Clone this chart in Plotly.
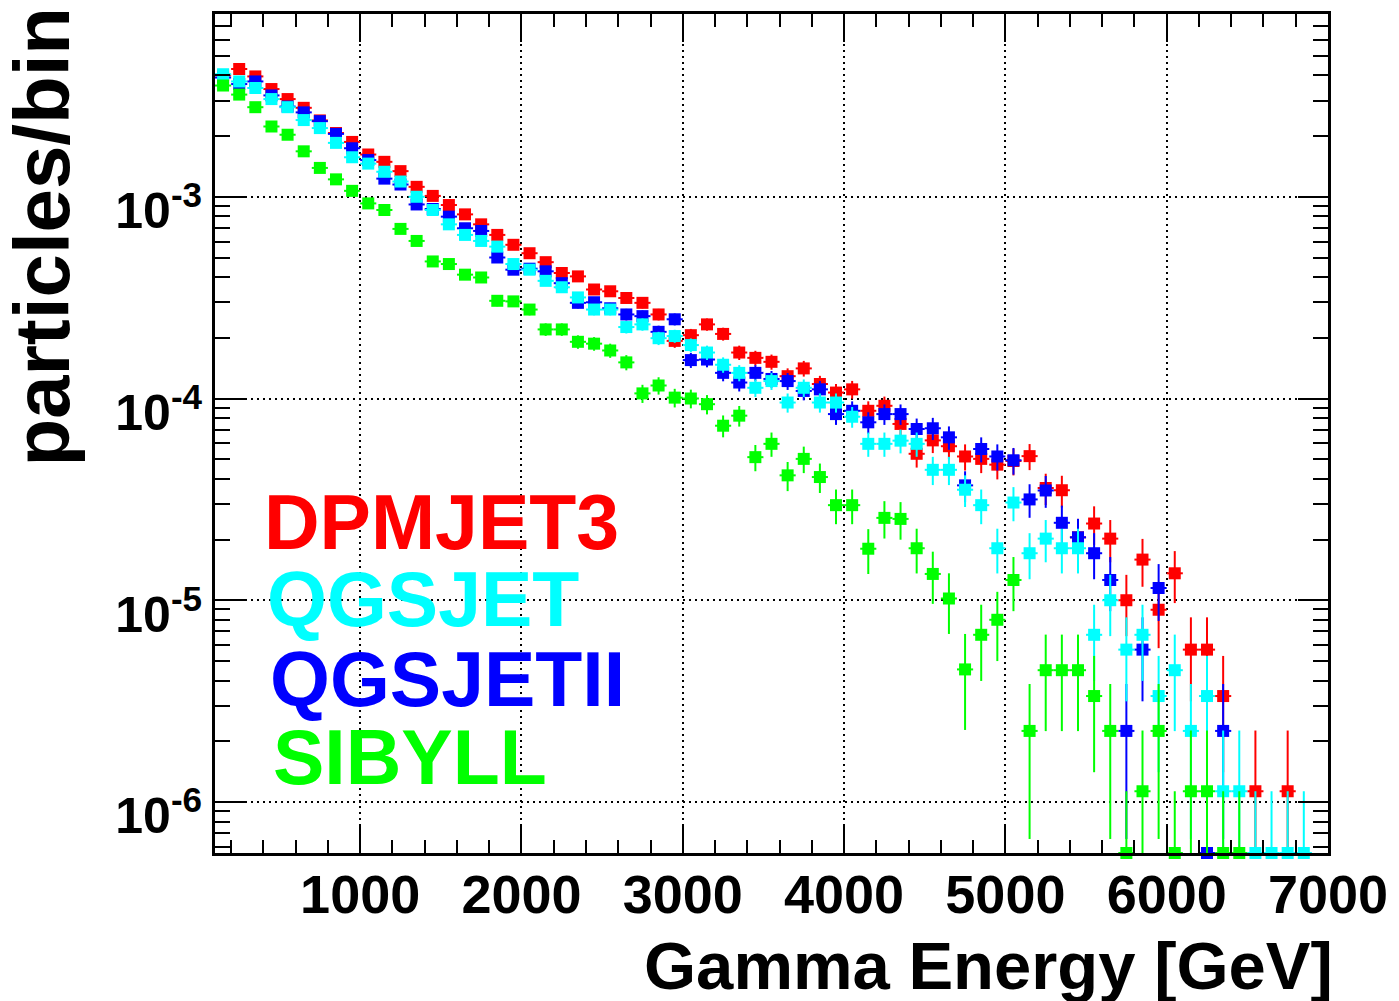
import math
import plotly.graph_objects as go

# ---------------- data ----------------
# bin centres [GeV] of 100 GeV wide bins between 100 and 7000
energy = [150, 250, 350, 450, 550, 650, 750, 850, 950, 1050,
          1150, 1250, 1350, 1450, 1550, 1650, 1750, 1850, 1950, 2050,
          2150, 2250, 2350, 2450, 2550, 2650, 2750, 2850, 2950, 3050,
          3150, 3250, 3350, 3450, 3550, 3650, 3750, 3850, 3950, 4050,
          4150, 4250, 4350, 4450, 4550, 4650, 4750, 4850, 4950, 5050,
          5150, 5250, 5350, 5450, 5550, 5650, 5750, 5850, 5950, 6050,
          6150, 6250, 6350, 6450, 6550, 6650, 6750, 6850]

# None = bin not drawn, 0 = empty bin drawn on the frame floor (as in the reference)
dpmjet3 = [4.0e-3, 4.30e-3, 3.95e-3, 3.42e-3, 3.05e-3, 2.76e-3, 2.39e-3, 2.07e-3, 1.87e-3, 1.62e-3,
           1.49e-3, 1.34e-3, 1.12e-3, 1.01e-3, 9.1e-4, 8.18e-4, 7.3e-4, 6.47e-4, 5.78e-4, 5.25e-4,
           4.74e-4, 4.19e-4, 4.03e-4, 3.47e-4, 3.40e-4, 3.15e-4, 2.98e-4, 2.61e-4, 1.93e-4, 2.06e-4,
           2.33e-4, 2.09e-4, 1.69e-4, 1.59e-4, 1.52e-4, 1.29e-4, 1.41e-4, 1.18e-4, 1.07e-4, 1.11e-4,
           8.69e-5, 9.2e-5, 7.48e-5, 5.32e-5, 6.2e-5, 5.8e-5, 5.16e-5, 5.02e-5, 4.7e-5, 4.9e-5,
           5.18e-5, 3.6e-5, 3.51e-5, 2.05e-5, 2.40e-5, 2.02e-5, 1.0e-5, 1.59e-5, 8.97e-6, 1.36e-5,
           5.69e-6, 5.69e-6, 3.35e-6, None, 1.13e-6, None, 1.13e-6, None]

qgsjetii = [3.9e-3, 3.62e-3, 3.73e-3, 3.18e-3, 2.8e-3, 2.62e-3, 2.37e-3, 2.05e-3, 1.74e-3, 1.52e-3,
            1.23e-3, 1.15e-3, 9.16e-4, 8.7e-4, 7.97e-4, 6.98e-4, 6.77e-4, 5.0e-4, 4.35e-4, 4.4e-4,
            4.27e-4, 3.73e-4, 2.98e-4, 3.0e-4, 2.8e-4, 2.61e-4, 2.56e-4, 2.14e-4, 2.47e-4, 1.55e-4,
            1.56e-4, 1.34e-4, 1.20e-4, 1.34e-4, 1.25e-4, 1.22e-4, 1.09e-4, 1.11e-4, 8.37e-5, 8.69e-5,
            7.62e-5, 8.37e-5, 8.37e-5, 7.06e-5, 7.12e-5, 6.42e-5, 3.71e-5, 5.62e-5, 5.16e-5, 4.94e-5,
            3.16e-5, 3.5e-5, 2.42e-5, 2.05e-5, 1.71e-5, 1.26e-5, 2.25e-6, 5.69e-6, 1.15e-5, None,
            None, 0, 2.25e-6, None, None, None, None, None]

qgsjet = [4.05e-3, 3.73e-3, 3.46e-3, 3.05e-3, 2.78e-3, 2.40e-3, 2.19e-3, 1.85e-3, 1.57e-3, 1.46e-3,
          1.33e-3, 1.19e-3, 1.0e-3, 8.6e-4, 7.3e-4, 6.47e-4, 6.04e-4, 5.66e-4, 4.64e-4, 4.35e-4,
          3.83e-4, 3.56e-4, 3.17e-4, 2.76e-4, 2.76e-4, 2.26e-4, 2.33e-4, 1.99e-4, 2.04e-4, 1.84e-4,
          1.69e-4, 1.47e-4, 1.34e-4, 1.13e-4, 1.22e-4, 9.55e-5, 1.13e-4, 9.55e-5, 9.55e-5, 8.12e-5,
          5.96e-5, 5.96e-5, 6.18e-5, 5.96e-5, 4.43e-5, 4.43e-5, 3.53e-5, 2.96e-5, 1.81e-5, 3.05e-5,
          1.71e-5, 2.02e-5, 1.81e-5, 1.81e-5, 6.74e-6, 1.0e-5, 5.69e-6, 6.74e-6, 3.35e-6, 4.50e-6,
          2.25e-6, 3.35e-6, 1.13e-6, 1.13e-6, 0, 0, 0, 0]

sibyll = [3.56e-3, 3.21e-3, 2.78e-3, 2.23e-3, 2.03e-3, 1.68e-3, 1.39e-3, 1.22e-3, 1.07e-3, 9.27e-4,
          8.6e-4, 6.93e-4, 6.04e-4, 4.78e-4, 4.64e-4, 4.11e-4, 3.98e-4, 3.05e-4, 3.03e-4, 2.76e-4,
          2.20e-4, 2.20e-4, 1.91e-4, 1.87e-4, 1.73e-4, 1.51e-4, 1.06e-4, 1.16e-4, 1.01e-4, 1.0e-4,
          9.37e-5, 7.33e-5, 8.22e-5, 5.12e-5, 5.96e-5, 4.16e-5, 5.02e-5, 4.08e-5, 2.96e-5, 2.96e-5,
          1.80e-5, 2.56e-5, 2.53e-5, 1.81e-5, 1.35e-5, 1.02e-5, 4.54e-6, 6.74e-6, 8.0e-6, 1.26e-5,
          2.25e-6, 4.50e-6, 4.50e-6, 4.50e-6, 3.35e-6, 2.25e-6, 0, 1.13e-6, 2.25e-6, 0,
          1.13e-6, 1.13e-6, 0, 0, None, None, None, None]

series_names = ["DPMJET3", "QGSJET", "QGSJETII", "SIBYLL"]
series_colors = {"DPMJET3": "#ff0000", "QGSJET": "#00ffff",
                 "QGSJETII": "#0000ff", "SIBYLL": "#00ff00"}
series_values = {"DPMJET3": dpmjet3, "QGSJET": qgsjet,
                 "QGSJETII": qgsjetii, "SIBYLL": sibyll}
draw_order = ["DPMJET3", "QGSJETII", "QGSJET", "SIBYLL"]

single_entry = 1.13e-6          # content of a one-entry bin (Poisson error scale)
bin_half_width = 50
x_range = [100, 7000]
y_log_range = [-6.253, -2.094]
x_ticks = [1000, 2000, 3000, 4000, 5000, 6000, 7000]
y_decades = [-6, -5, -4, -3]

# ---------------- figure ----------------
FONT = "Liberation Sans"
floor = 10 ** y_log_range[0]


def prepare(vals):
    ys, ep, em = [], [], []
    for v in vals:
        if v is None:
            ys.append(None); ep.append(None); em.append(None)
        elif v == 0:
            ys.append(floor); ep.append(single_entry - floor); em.append(floor * 0.02)
        else:
            e = math.sqrt(v * single_entry)
            low = max(v - e, floor * 0.98)
            ys.append(v); ep.append(e); em.append(v - low)
    return ys, ep, em


fig = go.Figure()
for name in draw_order:
    col = series_colors[name]
    ys, ep, em = prepare(series_values[name])
    fig.add_trace(go.Scatter(
        x=energy, y=ys, mode="markers", name=name, cliponaxis=False,
        marker=dict(symbol="square", size=12, color=col, line=dict(width=0)),
        error_y=dict(type="data", array=ep, arrayminus=em, symmetric=False,
                     thickness=2, width=0, color=col),
        error_x=dict(type="constant", value=bin_half_width, thickness=2, width=0, color=col),
        showlegend=False,
    ))

minor_y = [k * 10 ** d for d in range(-7, -1) for k in range(2, 10)]

axis_common = dict(
    showline=True, linewidth=3, linecolor="black", mirror="ticks",
    ticks="inside", tickwidth=2, tickcolor="black",
    showgrid=True, gridcolor="black", gridwidth=2, griddash="2px,4px",
    zeroline=False,
)

fig.update_xaxes(
    range=x_range, tickmode="array", tickvals=x_ticks,
    ticktext=[str(v) for v in x_ticks], ticklen=28, ticklabelstandoff=-8,
    tickfont=dict(family=FONT, size=54, color="black", weight="bold"),
    minor=dict(tick0=0, dtick=200, ticks="inside", ticklen=13, tickwidth=2,
               tickcolor="black", showgrid=False),
    **axis_common,
)
fig.update_yaxes(
    type="log", range=y_log_range, tickmode="array",
    tickvals=[10 ** d for d in y_decades],
    ticktext=[f"10<sup>{d}</sup>" for d in y_decades], ticklen=30,
    ticklabelshift=14,
    tickfont=dict(family=FONT, size=50, color="black", weight="bold"),
    minor=dict(tickmode="array", tickvals=minor_y, ticks="inside", ticklen=15,
               tickwidth=2, tickcolor="black", showgrid=False),
    **axis_common,
)

L, R, T, B = 215, 69, 11, 148
W_, H_ = 1399, 1001
pw, ph = W_ - L - R, H_ - T - B


def px(xp):
    return (xp - L) / pw


def py(yp):
    return (H_ - B - yp) / ph


annotations = [
    dict(text="particles/bin", x=px(42), y=py(235), textangle=-90,
         xanchor="center", yanchor="middle",
         font=dict(family=FONT, size=78, color="black", weight="bold")),
    dict(text="Gamma Energy [GeV]", x=px(1337), y=py(966),
         xanchor="right", yanchor="middle",
         font=dict(family=FONT, size=67, color="black", weight="bold")),
]
legend_pos = {"DPMJET3": (262, 521), "QGSJET": (265, 598),
              "QGSJETII": (268, 678), "SIBYLL": (271, 757)}
for name in series_names:
    lx, ly = legend_pos[name]
    annotations.append(dict(text=name, x=px(lx), y=py(ly), xanchor="left", yanchor="middle",
                            font=dict(family=FONT, size=77, color=series_colors[name],
                                      weight="bold")))
for a in annotations:
    a.update(xref="paper", yref="paper", showarrow=False)

fig.update_layout(
    width=W_, height=H_, autosize=False,
    margin=dict(l=L, r=R, t=T, b=B, pad=0),
    paper_bgcolor="white", plot_bgcolor="white",
    font=dict(family=FONT, color="black"),
    annotations=annotations, hovermode=False,
)

fig.write_html("out.html", config={"displayModeBar": False},
               post_script="document.body.style.margin='0px';")
